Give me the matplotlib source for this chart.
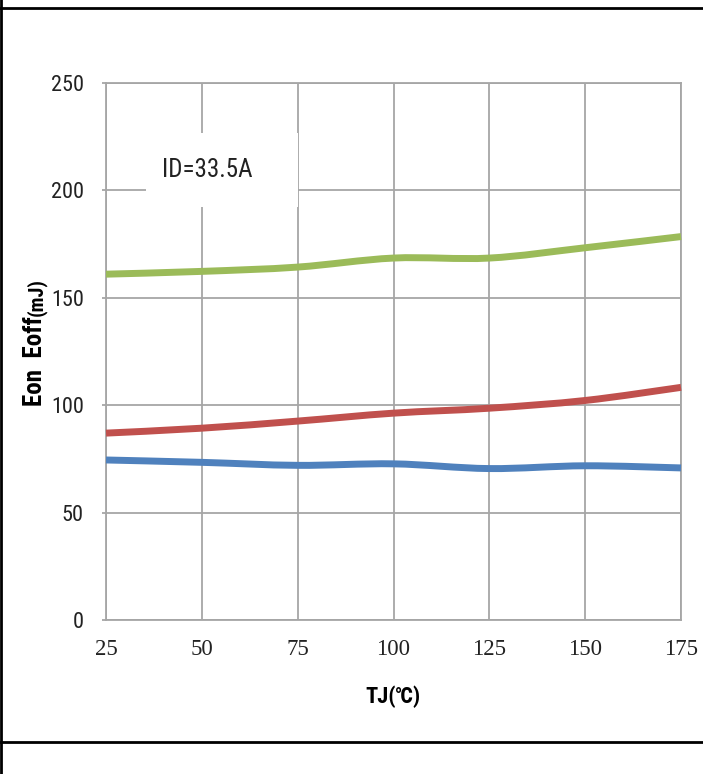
import matplotlib
matplotlib.use("Agg")
import matplotlib.pyplot as plt
from matplotlib.path import Path
from matplotlib.patches import PathPatch, Rectangle
from matplotlib.lines import Line2D
from matplotlib import font_manager
import numpy as np

# ---- data ----
tj = [25, 50, 75, 100, 125, 150, 175]
green_vals = [161.0, 162.3, 164.3, 168.5, 168.5, 173.3, 178.5]
red_vals = [87.0, 89.3, 92.6, 96.3, 98.6, 102.2, 108.3]
blue_vals = [74.5, 73.4, 72.0, 72.7, 70.5, 71.8, 70.8]
x_ticks = [25, 50, 75, 100, 125, 150, 175]
y_ticks = [0, 50, 100, 150, 200, 250]
annotation = "ID=33.5A"

fonts = font_manager.fontManager.ttflist
names = {f.name for f in fonts}
narrow = None
for cand in ['Liberation Sans Narrow', 'Arial Narrow', 'Roboto Condensed', 'Open Sans Condensed']:
    if cand in names:
        narrow = cand
        break
stretch = 'normal'
if narrow is None:
    if any(f.name == 'DejaVu Sans' and f.stretch not in ('normal', 500) for f in fonts):
        narrow, stretch = 'DejaVu Sans', 'condensed'
    else:
        narrow = 'Liberation Sans'
SANS = [narrow, 'DejaVu Sans']
SERIF = ['Liberation Serif', 'DejaVu Serif']

W, H = 703, 774
fig = plt.figure(figsize=(W / 100, H / 100), dpi=100)
ax = fig.add_axes([106 / W, 1 - 620 / H, (681 - 106) / W, (620 - 83) / H])

grid_c = '#A6A6A6'
ax.set_xlim(25, 175)
ax.set_ylim(0, 250)
ax.set_xticks(x_ticks)
ax.set_yticks(y_ticks)
ax.grid(True, color=grid_c, lw=1.3)
ax.set_axisbelow(True)
for s in ax.spines.values():
    s.set_color(grid_c)
    s.set_linewidth(1.3)
ax.tick_params(axis='x', length=0, pad=14, labelsize=16.5, labelcolor='#222222')
ax.tick_params(axis='y', length=3, width=1.3, color=grid_c, pad=13, labelsize=16, labelcolor='#222222')
for lab in ax.get_xticklabels():
    lab.set_family(SERIF)
for lab in ax.get_yticklabels():
    lab.set_family(SANS)
    lab.set_stretch(stretch)


def smooth_path(xs, ys):
    pts = np.column_stack([xs, ys]).astype(float)
    n = len(pts)
    verts = [pts[0]]
    codes = [Path.MOVETO]
    for i in range(n - 1):
        p0 = pts[i - 1] if i > 0 else pts[i]
        p1 = pts[i]
        p2 = pts[i + 1]
        p3 = pts[i + 2] if i + 2 < n else pts[i + 1]
        c1 = p1 + (p2 - p0) / 6.0
        c2 = p2 - (p3 - p1) / 6.0
        verts += [c1, c2, p2]
        codes += [Path.CURVE4] * 3
    return Path(verts, codes)


for vals, col in [(green_vals, '#9BBB59'), (red_vals, '#C0504D'), (blue_vals, '#4F81BD')]:
    patch = PathPatch(smooth_path(tj, vals), fc='none', ec=col, lw=5,
                      capstyle='butt', joinstyle='round', zorder=3, clip_on=False)
    ax.add_patch(patch)

# annotation box
ax.add_patch(Rectangle(((146 - 106) / 575, (620 - 207) / 537), (298 - 146) / 575, (207 - 133) / 537,
                       transform=ax.transAxes, fc='white', ec='none', zorder=2))
ax.text((207 - 106) / 575, (620 - 170) / 537, annotation, transform=ax.transAxes,
        ha='center', va='center', fontsize=18, family=SANS, fontstretch=stretch,
        color='#222222', zorder=4)

# y label in two pieces
ylx, yly = 42 / W, 1 - 316 / H
fig.text(ylx, yly, 'Eon  Eoff', rotation=90, rotation_mode='anchor', ha='right', va='baseline',
         fontsize=18, fontweight='bold', family=SANS, fontstretch=stretch, color='black')
fig.text(ylx, yly, '(mJ)', rotation=90, rotation_mode='anchor', ha='left', va='baseline',
         fontsize=14.5, fontweight='bold', family=SANS, fontstretch=stretch, color='black')

# x label
fig.text(393 / W, 1 - 697 / H, 'TJ(℃)', ha='center', va='center', fontsize=16,
         fontweight='bold', family=SANS, fontstretch=stretch, color='black')

# frame lines
fig.add_artist(Line2D([0, 1], [1 - 8 / H, 1 - 8 / H], transform=fig.transFigure, color='black', lw=2))
fig.add_artist(Line2D([0, 1], [1 - 742 / H, 1 - 742 / H], transform=fig.transFigure, color='black', lw=2))
fig.add_artist(Line2D([1 / W, 1 / W], [0, 1], transform=fig.transFigure, color='black', lw=2))

fig.savefig('out.png', dpi=100)
